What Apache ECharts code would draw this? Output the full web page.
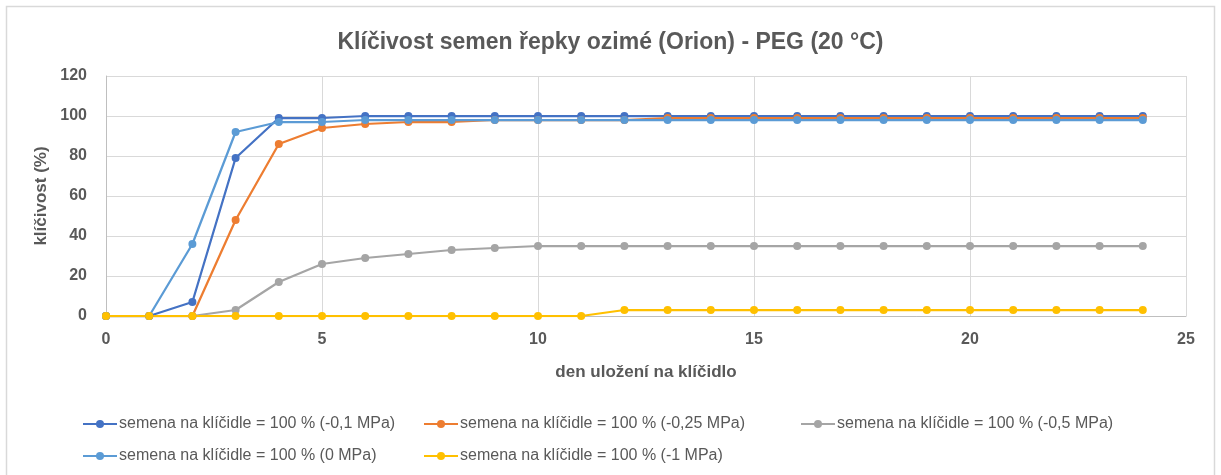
<!DOCTYPE html>
<html>
<head>
<meta charset="utf-8">
<script src="https://cdn.jsdelivr.net/npm/echarts@6/dist/echarts.min.js"></script>
<style>
  html, body { margin: 0; padding: 0; background: #fff; }
  #chart { width: 1221px; height: 475px; }
</style>
</head>
<body>
<div id="chart"></div>
<script>
// Days on the germinator
const days = [0,1,2,3,4,5,6,7,8,9,10,11,12,13,14,15,16,17,18,19,20,21,22,23,24];

// Germination (%) per osmotic potential
const seriesNames = [
  'semena na klíčidle = 100 % (-0,1 MPa)',
  'semena na klíčidle = 100 % (-0,25 MPa)',
  'semena na klíčidle = 100 % (-0,5 MPa)',
  'semena na klíčidle = 100 % (0 MPa)',
  'semena na klíčidle = 100 % (-1 MPa)'
];
const mpa01  = [0,0,7,79,99,99,100,100,100,100,100,100,100,100,100,100,100,100,100,100,100,100,100,100,100];
const mpa025 = [0,0,0,48,86,94,96,97,97,98,98,98,98,99,99,99,99,99,99,99,99,99,99,99,99];
const mpa05  = [0,0,0,3,17,26,29,31,33,34,35,35,35,35,35,35,35,35,35,35,35,35,35,35,35];
const mpa0   = [0,0,36,92,97,97,98,98,98,98,98,98,98,98,98,98,98,98,98,98,98,98,98,98,98];
const mpa1   = [0,0,0,0,0,0,0,0,0,0,0,0,3,3,3,3,3,3,3,3,3,3,3,3,3];

const colors = ['#4472C4', '#ED7D31', '#A5A5A5', '#5B9BD5', '#FFC000'];
const valueSets = [mpa01, mpa025, mpa05, mpa0, mpa1];

const font = 'Liberation Sans, Arial, sans-serif';
const textGrey = '#595959';

const chart = echarts.init(document.getElementById('chart'), null, { renderer: 'canvas' });

const legendBase = {
  orient: 'vertical',
  top: 416,
  padding: 0,
  itemWidth: 34,
  itemHeight: 10,
  itemGap: 16,
  textStyle: { color: textGrey, fontSize: 16, fontFamily: font, padding: [0, 0, 0, -3] },
  selectedMode: false
};

chart.setOption({
  animation: false,
  backgroundColor: '#fff',
  color: colors,
  title: {
    text: 'Klíčivost semen řepky ozimé (Orion) - PEG (20 °C)',
    left: 'center',
    top: 26,
    textStyle: { color: textGrey, fontSize: 23, fontWeight: 'bold', fontFamily: font }
  },
  graphic: [{
    type: 'rect',
    shape: { x: 6.5, y: 6.5, width: 1208, height: 480 },
    style: { fill: 'none', stroke: '#D9D9D9', lineWidth: 1.5 },
    silent: true
  }],
  legend: [
    Object.assign({}, legendBase, { left: 82, data: [seriesNames[0], seriesNames[3]] }),
    Object.assign({}, legendBase, { left: 423, data: [seriesNames[1], seriesNames[4]] }),
    Object.assign({}, legendBase, { left: 800, data: [seriesNames[2]] })
  ],
  grid: { left: 106, right: 35, top: 76, bottom: 159 },
  xAxis: {
    type: 'value',
    min: 0, max: 25, interval: 5,
    name: 'den uložení na klíčidlo',
    nameLocation: 'middle',
    nameGap: 48,
    nameTextStyle: { color: textGrey, fontSize: 17, fontWeight: 'bold', fontFamily: font },
    axisLine: { show: true, lineStyle: { color: '#BFBFBF', width: 1 } },
    axisTick: { show: false },
    axisLabel: { color: textGrey, fontSize: 16, fontWeight: 'bold', fontFamily: font, margin: 16 },
    splitLine: { show: true, lineStyle: { color: '#D9D9D9', width: 1 } }
  },
  yAxis: {
    type: 'value',
    min: 0, max: 120, interval: 20,
    name: 'klíčivost (%)',
    nameLocation: 'middle',
    nameGap: 56,
    nameTextStyle: { color: textGrey, fontSize: 17, fontWeight: 'bold', fontFamily: font },
    axisLine: { show: true, lineStyle: { color: '#BFBFBF', width: 1 } },
    axisTick: { show: false },
    axisLabel: { color: textGrey, fontSize: 16, fontWeight: 'bold', fontFamily: font, margin: 19 },
    splitLine: { show: true, lineStyle: { color: '#D9D9D9', width: 1 } }
  },
  series: seriesNames.map((name, i) => ({
    name: name,
    type: 'line',
    data: days.map((d, j) => [d, valueSets[i][j]]),
    symbol: 'circle',
    symbolSize: 8,
    lineStyle: { width: 2.25, color: colors[i] },
    itemStyle: { color: colors[i] },
    emphasis: { disabled: true }
  }))
});
</script>
</body>
</html>
